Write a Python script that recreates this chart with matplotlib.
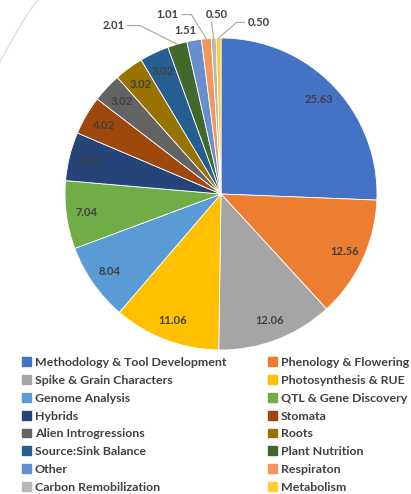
import matplotlib
matplotlib.use("Agg")
import matplotlib.pyplot as plt
import matplotlib.patches as mpatches
import numpy as np

plt.rcParams['font.family'] = ['Lato', 'DejaVu Sans']

# share of papers per research topic (%)
categories = ["Methodology & Tool Development", "Phenology & Flowering",
              "Spike & Grain Characters", "Photosynthesis & RUE",
              "Genome Analysis", "QTL & Gene Discovery",
              "Hybrids", "Stomata", "Alien Introgressions", "Roots",
              "Source:Sink Balance", "Plant Nutrition", "Other",
              "Respiraton", "Carbon Remobilization", "Metabolism"]
values = [25.63, 12.56, 12.06, 11.06, 8.04, 7.04, 5.03, 4.02, 3.02, 3.02,
          3.02, 2.01, 1.51, 1.01, 0.50, 0.50]
colors = ["#4472C4", "#ED7D31", "#A5A5A5", "#FFC000", "#5B9BD5", "#70AD47",
          "#264478", "#9E480E", "#636363", "#997300", "#255E91", "#43682B",
          "#698ED0", "#F1975A", "#B7B7B7", "#FFCD33"]

W, H = 411, 494
fig = plt.figure(figsize=(W / 100, H / 100), dpi=100)

# pie centre (221, 194) px from top-left, radius 156 px
cx, cy, r = 221, 194, 156
ax = fig.add_axes([(cx - r) / W, (H - cy - r) / H, 2 * r / W, 2 * r / H])
wedges, _ = ax.pie(values, colors=colors, startangle=90, counterclock=False,
                   radius=1, wedgeprops=dict(linewidth=0.6, edgecolor="white"))
ax.set_xlim(-1, 1)
ax.set_ylim(-1, 1)
ax.set_aspect("equal")
ax.axis("off")

txt_color = "#404040"
# offsets for small slices labelled outside, with leader lines
outside = {11: (-0.62, 1.08), 12: (-0.23, 1.05), 13: (-0.27, 1.15),
           14: (-0.03, 1.15), 15: (0.17, 1.10)}
for i, (w, v) in enumerate(zip(wedges, values)):
    ang = np.deg2rad((w.theta1 + w.theta2) / 2)
    lab = f"{v:.2f}"
    if i in outside:
        tx, ty = outside[i]
        ha = "right" if i in (11, 13) else ("left" if i == 15 else "center")
        if i == 12:
            ax.text(tx, ty, lab, ha="center", va="center", fontsize=8,
                    color=txt_color, fontweight="bold")
            continue
        ex, ey = np.cos(ang), np.sin(ang)
        if i == 11:
            pts = [(tx + 0.02, ty), (tx + 0.1, ty), (ex, ey)]
        elif i == 13:
            pts = [(tx + 0.02, ty), (tx + 0.08, ty), (ex, ey)]
        elif i == 14:
            pts = [(tx - 0.03, ty - 0.05), (ex, ey)]
        else:
            pts = [(tx - 0.02, ty), (tx - 0.07, ty), (ex, ey)]
        ax.plot(*zip(*pts), color="#A6A6A6", lw=0.8, clip_on=False)
        ax.text(tx, ty, lab, ha=ha, va="center", fontsize=8,
                color=txt_color, fontweight="bold")
    else:
        d = 0.87
        ax.text(d * np.cos(ang), d * np.sin(ang), lab, ha="center",
                va="center", fontsize=8, color=txt_color, fontweight="bold")

handles = [mpatches.Patch(color=c, label=l) for c, l in zip(colors, categories)]
# reorder so that ncol=2 fills row by row
order = list(range(0, 16, 2)) + list(range(1, 16, 2))
leg = fig.legend([handles[i] for i in order], [categories[i] for i in order],
                 ncol=2, loc="upper left", bbox_to_anchor=(0.054, 0.277),
                 frameon=False, fontsize=8.9, handlelength=0.72,
                 handleheight=0.72, handletextpad=0.3, columnspacing=3.4,
                 labelspacing=0.55, borderpad=0, borderaxespad=0)
for t in leg.get_texts():
    t.set_color(txt_color)
    t.set_fontweight("bold")

# faint decorative arc in the top-left corner
s = np.linspace(0, 1, 30)
arc_x = (38 * s) / W
arc_y = 1 - (62 * (1 - s) ** 1.15) / H
fig.add_artist(plt.Line2D(arc_x, arc_y, transform=fig.transFigure,
                          color="#D9D9D9", lw=0.8))

fig.savefig("out.png", dpi=100)
